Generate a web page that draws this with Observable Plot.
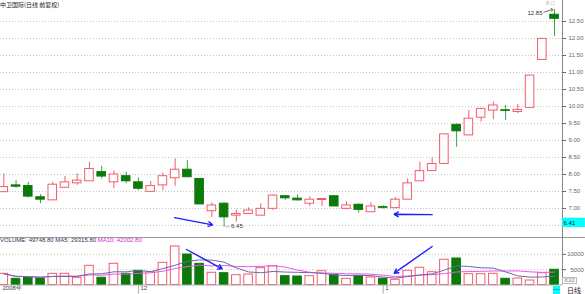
<!DOCTYPE html>
<html>
<head>
<meta charset="utf-8">
<script src="https://cdn.jsdelivr.net/npm/d3@7"></script>
<script src="https://cdn.jsdelivr.net/npm/@observablehq/plot@0.6"></script>
<style>
  html, body { margin: 0; padding: 0; background: #fff; }
  #wrap { position: relative; width: 585px; height: 294px; overflow: hidden; font-family: "Liberation Sans", Arial, sans-serif; }
  #price { position: absolute; left: 0; top: 0; }
  #vol { position: absolute; left: 0; top: 236px; }
  .lbl { position: absolute; font-size: 6px; line-height: 7px; white-space: nowrap; }
  svg { overflow: visible; }
</style>
</head>
<body>
<div id="wrap">
  <div id="price"></div>
  <div id="vol"></div>
  <div class="lbl" style="left:0;top:1px;color:#222;font-family:'Noto Sans CJK SC',sans-serif;">中卫国际(日线 前复权)</div>
  <div class="lbl" style="left:0;top:237px;"><span style="color:#30305a">VOLUME: 49748.80 MA5: 29315.80</span> <span style="color:#e020e0">MA10: 42002.80</span></div>
  <div class="lbl" style="left:562px;top:277px;color:#777;border:1px solid #bbb;padding:0 1px;line-height:5px;">X10</div>
  <div class="lbl" style="left:567px;top:287px;color:#222;font-family:'Noto Sans CJK SC',sans-serif;font-size:7px;">日线</div>
  <div class="lbl" style="left:553px;top:286px;width:7px;height:8px;background:#00ffff;color:#024;text-align:center;line-height:7px;">—</div>
  <div class="lbl" style="left:546px;top:0px;color:#888;">◊ □</div>
</div>
<script>
// ---- data ----
const opens  = [7.48,7.68,7.66,7.33,7.24,7.61,7.74,7.80,8.07,7.77,7.95,7.77,7.49,7.68,7.89,8.14,7.87,6.92,7.14,6.79,6.84,6.79,6.99,7.36,7.29,7.14,7.25,7.36,6.99,7.11,6.89,7.04,7.01,7.26,7.80,8.10,8.31,9.46,9.15,9.67,9.88,9.89,9.84,9.96,11.37,12.70];
const highs  = [8.02,7.82,7.77,7.41,7.77,7.94,8.02,8.36,8.24,8.10,8.07,7.90,7.80,8.04,8.46,8.41,7.87,7.17,7.17,6.96,7.02,7.14,7.40,7.37,7.40,7.35,7.28,7.38,7.20,7.13,7.17,7.08,7.32,7.87,8.36,8.49,9.18,9.48,9.88,9.95,10.13,10.03,10.06,10.91,11.99,12.85];
const lows   = [7.48,7.60,7.31,7.14,7.24,7.61,7.68,7.80,7.87,7.58,7.73,7.53,7.49,7.53,7.65,7.92,7.12,6.73,6.45,6.60,6.82,6.79,6.94,7.24,7.22,7.06,7.06,7.06,6.96,6.86,6.89,6.98,7.01,7.26,7.80,8.10,8.31,8.80,9.15,9.54,9.61,9.59,9.79,9.96,11.37,12.06];
const closes = [7.63,7.64,7.35,7.26,7.70,7.77,7.82,8.16,7.94,8.00,7.80,7.58,7.66,7.95,8.14,7.92,7.12,7.09,6.74,6.84,6.94,6.99,7.38,7.30,7.24,7.26,7.28,7.06,7.09,6.96,7.06,7.02,7.26,7.74,8.10,8.31,9.18,9.27,9.64,9.93,10.03,9.87,9.90,10.91,11.99,12.58];
const volumes = [36600,20300,24500,21200,36600,36600,23500,62700,23500,69300,36600,46400,41800,72500,125800,99700,69300,39900,38600,32000,34300,54900,61400,28800,27800,28800,45100,33300,20300,30000,24500,20300,17000,46400,56200,41800,82400,86600,35300,35300,36600,20300,21200,14700,38600,49748.8];
const priceTicks = [7.0,7.5,8.0,8.5,9.0,9.5,10.0,10.5,11.0,11.5,12.0,12.5];
const priceGrid  = [6.5,7.0,7.5,8.0,8.5,9.0,9.5,10.0,10.5,11.0,11.5,12.0,12.5];
const volTicks = [50000, 100000];
const xLabelText = ["2008年","12","1"];
const xTickIdx = [11, 31];
const lowMark  = {i: 18, v: 6.45};
const highMark = {i: 45, v: 12.85};
const cursorValue = 6.41;
// annotation arrows (candle index, price / volume)
const priceArrows = [
  {x1: 13.95, y1: 6.73, x2: 17.05, y2: 6.52},
  {x1: 35.0,  y1: 6.82, x2: 31.9,  y2: 6.83}
];
const volArrows = [
  {x1: 14.93, y1: 116000, x2: 17.84, y2: 52900},
  {x1: 35.0,  y1: 125800, x2: 31.9,  y2: 38600}
];

// ---- layout ----
const RED = "#f25c6b", GREEN = "#0b7a0b", GREEN_WICK = "#3fa03f", BLUE = "#1e1eff";
const xDomain = [-0.27, 45.65];
const xFull = 47.52;
const bw = 0.35;
const candles = opens.map((o, i) => ({i, open: o, high: highs[i], low: lows[i], close: closes[i], v: volumes[i], up: closes[i] >= o}));
const upC = candles.filter(d => d.up), dnC = candles.filter(d => !d.up);
const xLabelPos = [xDomain[0], ...xTickIdx];

const price = Plot.plot({
  width: 585, height: 237,
  marginLeft: 0, marginRight: 23, marginTop: 0, marginBottom: 0,
  x: {type: "linear", domain: xDomain, axis: null},
  y: {domain: [6.147, 13.118], axis: null},
  marks: [
    Plot.ruleY(priceGrid, {stroke: "#c4c4c4", strokeDasharray: "1,2"}),
    Plot.ruleX(upC, {x: "i", y1: "low", y2: "high", stroke: RED}),
    Plot.ruleX(dnC, {x: "i", y1: "low", y2: "high", stroke: GREEN_WICK}),
    Plot.rect(upC, {x1: d => d.i - bw, x2: d => d.i + bw, y1: "open", y2: "close", fill: "white", stroke: RED}),
    Plot.rect(dnC, {x1: d => d.i - bw, x2: d => d.i + bw, y1: "open", y2: "close", fill: GREEN, stroke: GREEN}),
    Plot.text([lowMark], {x: "i", y: "v", text: d => "←" + d.v.toFixed(2), textAnchor: "start", dx: 1, dy: -1, fontSize: 6, fill: "#333", fontFamily: "Liberation Sans"}),
    Plot.text([highMark], {x: "i", y: "v", text: d => d.v.toFixed(2), textAnchor: "end", dx: -12, dy: 3, fontSize: 6, fill: "#333", fontFamily: "Liberation Sans"}),
    Plot.link([highMark], {x1: d => d.i - 0.9, x2: d => d.i - 0.2, y1: d => d.v - 0.08, y2: d => d.v, stroke: "#333", strokeWidth: 0.7, markerEnd: "arrow"}),
    Plot.arrow(priceArrows, {x1: "x1", y1: "y1", x2: "x2", y2: "y2", stroke: BLUE, strokeWidth: 1.4, headLength: 5}),
    Plot.axisY(priceTicks, {anchor: "right", tickFormat: d3.format(".2f"), tickSize: 3, tickPadding: 3, fontSize: 6, color: "#666", fontFamily: "Liberation Sans"}),
    Plot.ruleX([xDomain[1]], {stroke: "#888"}),
    Plot.rect([cursorValue], {x1: xDomain[1], x2: xFull, y1: 6.44, y2: 6.715, fill: "#00ffff"}),
    Plot.text([cursorValue], {x: xDomain[1], y: 6.58, text: d => d.toFixed(2), textAnchor: "start", dx: 1, fontSize: 6, fill: "#113", fontFamily: "Liberation Sans"})
  ]
});
document.getElementById("price").appendChild(price);

const volMax = 155229;
const vol = Plot.plot({
  width: 585, height: 58,
  marginLeft: 0, marginRight: 23, marginTop: 1, marginBottom: 9.5,
  x: {type: "linear", domain: xDomain, axis: null},
  y: {domain: [0, volMax], axis: null},
  marks: [
    Plot.ruleY(volTicks, {stroke: "#c4c4c4", strokeDasharray: "1,2"}),
    Plot.rect(upC, {x1: d => d.i - bw, x2: d => d.i + bw, y1: 0, y2: "v", fill: "white", stroke: RED}),
    Plot.rect(dnC, {x1: d => d.i - bw, x2: d => d.i + bw, y1: 0, y2: "v", fill: GREEN, stroke: GREEN}),
    Plot.lineY(candles, Plot.windowY({k: 10, anchor: "end", strict: false}, {x: "i", y: "v", stroke: "#ee55ee", strokeWidth: 1})),
    Plot.lineY(candles, Plot.windowY({k: 5, anchor: "end", strict: false}, {x: "i", y: "v", stroke: "#6a6aa8", strokeWidth: 1})),
    Plot.arrow(volArrows, {x1: "x1", y1: "y1", x2: "x2", y2: "y2", stroke: BLUE, strokeWidth: 1.4, headLength: 5}),
    Plot.axisY(volTicks, {anchor: "right", tickFormat: () => "", tickSize: 3, color: "#666"}),
    Plot.text(volTicks, {x: xFull, y: d => d, text: d => String(d / 10), textAnchor: "end", dx: -1.5, fontSize: 6, fill: "#666", fontFamily: "Liberation Sans"}),
    Plot.ruleY([volMax], {x1: xDomain[0], x2: xFull, stroke: "#999"}),
    Plot.ruleY([0], {stroke: "#aaa"}),
    Plot.ruleX([xDomain[1]], {y1: 0, y2: volMax, stroke: "#888"}),
    Plot.axisX(xTickIdx, {anchor: "bottom", tickSize: 9, tickFormat: () => "", color: "#aaa"}),
    Plot.text(xLabelPos, {x: d => d, frameAnchor: "bottom", text: (d, i) => xLabelText[i], textAnchor: "start", dx: 2, dy: 5, fontSize: 6, fill: "#444", fontFamily: "Liberation Sans"})
  ]
});
document.getElementById("vol").appendChild(vol);
</script>
</body>
</html>
